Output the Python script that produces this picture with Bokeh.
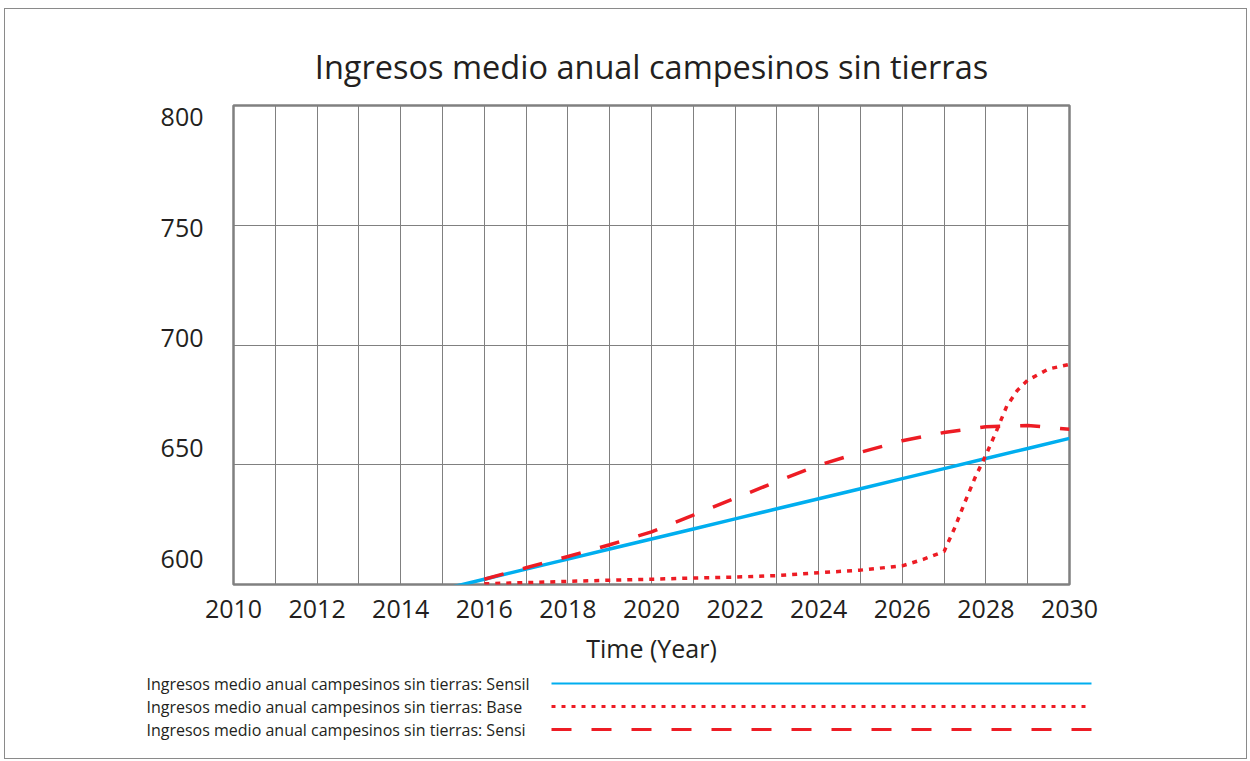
from bokeh.plotting import figure
from bokeh.models import Range1d, LinearAxis, FixedTicker
from bokeh.core.properties import value
from bokeh.embed import file_html
from bokeh.resources import INLINE

# ---------------- data ----------------
title_text = "Ingresos medio anual campesinos sin tierras"
x_label = "Time (Year)"
x_ticks = [2010, 2012, 2014, 2016, 2018, 2020, 2022, 2024, 2026, 2028, 2030]
x_grid_years = list(range(2010, 2031))
y_ticks = [600, 650, 700, 750, 800]

sensil_years = [2015, 2016, 2017, 2018, 2019, 2020, 2021, 2022, 2023, 2024, 2025, 2026, 2027, 2028, 2029, 2030]
sensil_vals = [598.0, 602.2, 606.4, 610.6, 614.8, 619.0, 623.2, 627.4, 631.6, 635.8, 640.0, 644.2, 648.4, 652.6, 656.8, 661.0]

base_years = [2016, 2017, 2018, 2019, 2020, 2021, 2022, 2023, 2024, 2025, 2026, 2026.5, 2027,
              2027.25, 2027.5, 2027.75, 2028, 2028.25, 2028.5, 2028.75, 2029, 2029.5, 2030]
base_vals = [600.3, 600.8, 601.3, 601.8, 602.2, 602.7, 603.1, 603.7, 604.9, 606.0, 607.8, 610.5, 613.8,
             623.5, 634.5, 645.0, 654.0, 664.0, 674.5, 681.0, 685.3, 690.0, 691.9]

sensi_years = [2016, 2017, 2018, 2019, 2020, 2021, 2022, 2023, 2024, 2025, 2026, 2027, 2028, 2029, 2030]
sensi_vals = [602.2, 607.0, 611.7, 616.6, 622.0, 629.0, 636.0, 643.0, 649.8, 655.2, 660.0, 663.5, 665.9, 666.4, 664.8]

legend_labels = [
    "Ingresos medio anual campesinos sin tierras: Sensil",
    "Ingresos medio anual campesinos sin tierras:  Base",
    "Ingresos medio anual campesinos sin tierras:  Sensi",
]

# ---------------- styles / layout ----------------
BLUE = "#00AEEF"
RED = "#ED1C24"
GRID = "#808080"
TXT = "#231F20"
FONT = "Open Sans"
BORDER = "1px solid #8a8a8a"

W, H = 1243, 666
FL, FT, FW, FH = 228, 96, 836, 479      # frame left/top/width/height (figure px)

p = figure(width=W, height=H, x_range=Range1d(2010, 2030), y_range=Range1d(600, 800),
           output_backend="svg", toolbar_location=None,
           min_border_left=FL, min_border_right=W - FL - FW,
           min_border_top=FT, min_border_bottom=H - FT - FH,
           styles={"margin-left": "4px", "margin-top": "8px",
                   "border-top": BORDER, "border-left": BORDER, "border-right": BORDER})

p.title.text = title_text
p.title.align = "center"
p.title.text_font = FONT
p.title.text_font_size = "32.5px"
p.title.text_font_style = "normal"
p.title.text_color = TXT
p.title.standoff = 33

p.outline_line_color = GRID
p.outline_line_width = 2.5

p.xgrid.ticker = FixedTicker(ticks=x_grid_years)
p.ygrid.ticker = FixedTicker(ticks=y_ticks)
p.grid.grid_line_color = GRID
p.grid.grid_line_width = 1

xa = p.xaxis[0]
xa.ticker = FixedTicker(ticks=x_ticks)
xa.axis_line_color = None
xa.major_tick_line_color = None
xa.minor_tick_line_color = None
xa.major_label_text_font = FONT
xa.major_label_text_font_size = "25px"
xa.major_label_text_color = TXT
xa.major_label_standoff = 9
xa.axis_label = x_label
xa.axis_label_text_font = FONT
xa.axis_label_text_font_size = "25px"
xa.axis_label_text_font_style = "normal"
xa.axis_label_text_color = TXT
xa.axis_label_standoff = 10

p.yaxis[0].visible = False

# label axis: the original tool spaces its value labels evenly between 117px and 558px
p.extra_y_ranges = {"lab": Range1d(588.21, 805.44)}
ya = LinearAxis(y_range_name="lab", ticker=FixedTicker(ticks=y_ticks))
ya.axis_line_color = None
ya.major_tick_line_color = None
ya.minor_tick_line_color = None
ya.major_tick_out = 0
ya.major_label_standoff = 30
ya.major_label_text_font = FONT
ya.major_label_text_font_size = "25px"
ya.major_label_text_color = TXT
p.add_layout(ya, "left")

p.line(sensil_years, sensil_vals, line_color=BLUE, line_width=3.5)
p.line(sensi_years, sensi_vals, line_color=RED, line_width=3.5, line_dash="20 20")
p.line(base_years, base_vals, line_color=RED, line_width=3.5, line_dash="5 6")

# ---------------- legend strip (text, then line sample) ----------------
LH = 85
leg = figure(width=W, height=LH, x_range=Range1d(0, W), y_range=Range1d(LH, 0),
             output_backend="svg", toolbar_location=None, min_border=0,
             styles={"margin-left": "4px", "border-bottom": BORDER,
                     "border-left": BORDER, "border-right": BORDER})
leg.axis.visible = False
leg.grid.visible = False
leg.outline_line_color = None

rows = [9, 32, 55]
leg.text(x=[141] * 3, y=rows, text=legend_labels, text_font=value(FONT),
         text_font_size="16px", text_baseline="middle", text_align="left", text_color=TXT)
leg.line([546, 1086], [rows[0], rows[0]], line_color=BLUE, line_width=2)
leg.line([546, 1086], [rows[1], rows[1]], line_color=RED, line_width=3, line_dash="4 6")
leg.line([546, 1086], [rows[2], rows[2]], line_color=RED, line_width=3, line_dash="20 20")

open("out.html", "w").write(file_html([p, leg], INLINE))
